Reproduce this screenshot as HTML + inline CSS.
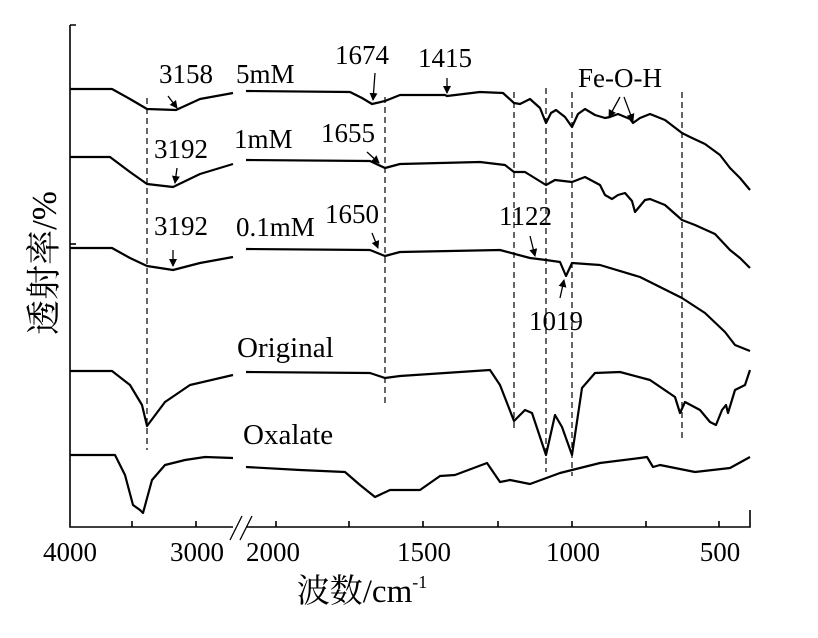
<!DOCTYPE html><html><head><style>body{margin:0;background:#fff}svg{display:block}text{font-family:"Liberation Serif","Noto Serif CJK SC",serif;fill:#000}</style></head><body>
<svg width="818" height="638" viewBox="0 0 818 638" xmlns="http://www.w3.org/2000/svg">
<defs><marker id="a" markerWidth="8" markerHeight="8" refX="7" refY="4" orient="auto" markerUnits="userSpaceOnUse"><path d="M0,0 L8,4 L0,8 Z" fill="#000"/></marker></defs>
<g stroke="#000" stroke-width="1.6" fill="none">
<path d="M70,25 H76 M70,25 V527 H233 M246,527 H750 V510"/>
<path d="M70,244 H76"/>
<path d="M132,527 V521 M196,527 V521 M276,527 V521 M349,527 V521 M423,527 V521 M498,527 V521 M572,527 V521 M646,527 V521 M719,527 V521"/>
<path d="M230,540 L242,516 M240,540 L252,516" stroke-width="1.3"/>
</g>
<g stroke="#000" stroke-width="1.2" stroke-dasharray="6,4">
<path d="M147,98 V450 M385,97 V405 M514,92 V430 M546,88 V472 M572,92 V476 M682,92 V442"/>
</g>
<g stroke="#000" stroke-width="2.2" fill="none" stroke-linejoin="round">
<polyline points="70,89 112,89 130,99 147,109 176,110 200,99 233,93"/>
<polyline points="246,91 350,92 362,98 372,104 385,101 400,95 445,95 447,96 480,92 503,93 514,103 520,104 530,99 540,108 546,123 551,113 556,110 565,117 572,127 578,114 585,109 595,115 605,118 610,117 618,114 630,119 633,123 640,118 650,114 665,120 682,133 690,137 705,144 720,155 730,168 740,178 750,190"/>
<polyline points="70,157 110,157 130,172 147,184 173,187 200,174 233,164"/>
<polyline points="246,160 370,161 385,168 400,164 480,162 505,165 514,172 525,172 546,185 555,180 572,182 585,177 600,185 605,195 612,199 618,195 625,193 632,201 635,212 645,200 650,199 665,205 682,220 695,225 715,234 730,250 740,258 750,268"/>
<polyline points="70,248 112,248 130,258 147,266 173,270 200,263 233,257"/>
<polyline points="246,249 370,250 385,256 400,252 500,250 530,258 546,260 560,262 566,276 572,263 600,265 640,277 682,298 705,313 725,332 735,345 750,351"/>
<polyline points="70,371 112,371 130,385 142,405 147,426 165,402 190,385 233,375"/>
<polyline points="246,372 370,373 385,378 400,376 490,370 500,385 514,421 525,410 532,413 546,455 555,415 562,427 572,455 582,388 595,373 620,372 650,380 675,397 680,413 685,402 700,410 710,422 716,425 722,410 726,405 728,413 735,390 745,385 750,370"/>
<polyline points="70,455 115,455 125,475 133,505 140,510 143,513 152,480 165,465 185,460 205,457 233,458"/>
<polyline points="246,467 300,470 345,472 360,485 375,497 390,490 420,490 440,476 455,475 487,463 500,482 510,480 530,484 560,473 600,463 640,458 647,457 653,467 660,465 695,472 730,468 750,457"/>
</g>
<g stroke="#000" stroke-width="1.3" marker-end="url(#a)">
<line x1="168" y1="96" x2="177" y2="108"/>
<line x1="375" y1="73" x2="373" y2="100"/>
<line x1="447" y1="78" x2="447" y2="93"/>
<line x1="620" y1="97" x2="609" y2="117"/>
<line x1="624" y1="97" x2="633" y2="121"/>
<line x1="177" y1="168" x2="175" y2="183"/>
<line x1="367" y1="152" x2="379" y2="163"/>
<line x1="173" y1="250" x2="173" y2="266"/>
<line x1="372" y1="233" x2="378" y2="248"/>
<line x1="530" y1="236" x2="535" y2="256"/>
<line x1="560" y1="298" x2="564" y2="280"/>
</g>
<g font-size="27">
<text x="159" y="83">3158</text><text x="236" y="83">5mM</text>
<text x="335" y="64">1674</text><text x="418" y="67">1415</text>
<text x="578" y="87">Fe-O-H</text>
<text x="154" y="158">3192</text><text x="234" y="148">1mM</text><text x="321" y="142">1655</text>
<text x="154" y="235">3192</text><text x="236" y="236">0.1mM</text><text x="325" y="223">1650</text>
<text x="499" y="225">1122</text><text x="529" y="330">1019</text>
<text x="237" y="357" font-size="29">Original</text><text x="243" y="444" font-size="29">Oxalate</text>
</g>
<g font-size="27" text-anchor="middle">
<text x="70" y="561">4000</text><text x="197" y="561">3000</text><text x="273" y="561">2000</text>
<text x="424" y="561">1500</text><text x="573" y="561">1000</text><text x="720" y="561">500</text>
</g>
<text x="362" y="602" font-size="33" text-anchor="middle">波数/cm<tspan font-size="18" dy="-14">-1</tspan></text>
<text transform="translate(56,263) rotate(-90)" font-size="35" text-anchor="middle">透射率/%</text>
</svg></body></html>
